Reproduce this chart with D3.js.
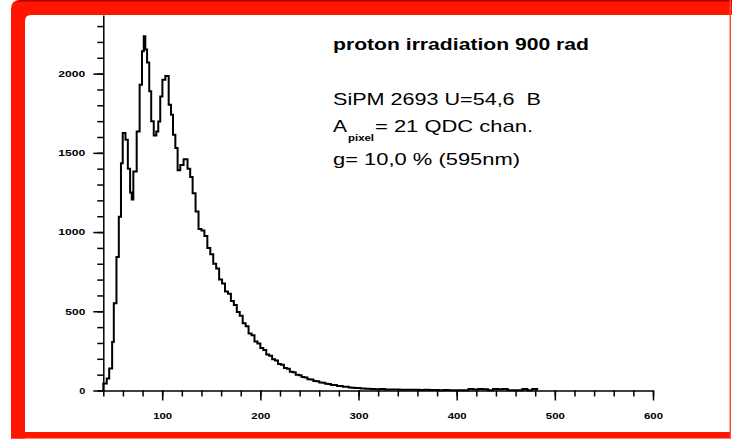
<!DOCTYPE html>
<html>
<head>
<meta charset="utf-8">
<script src="https://cdn.jsdelivr.net/npm/d3@7"></script>
<style>
  html, body { margin: 0; padding: 0; background: #fff; }
  svg { display: block; }
  text { font-family: "Liberation Sans", Arial, sans-serif; white-space: pre; }
</style>
</head>
<body>
<script>
// ---------- data ----------
const channels = [
  40, 43.5, 46, 49, 50.7, 53.4, 55.8, 58, 59.8, 62.6, 65, 67.3, 69, 70.6, 74, 77, 79.4, 81.2, 82.8, 84.6,
  86.8, 88.8, 91.4, 94, 96, 98, 100.2, 103.2, 106.6, 109, 111, 113.4, 115.7, 118.4, 121.8, 125.8, 128.5, 131,
  134, 137, 140, 143, 146, 149, 152, 155, 158, 161, 164, 167, 170, 173, 176, 179, 182, 185, 188, 191,
  194, 197, 200, 203, 206, 209, 212, 215, 218, 221, 224, 227, 230, 233, 236, 239, 242, 245, 248, 251,
  254, 257, 260, 263, 266, 269, 272, 275, 278, 281, 284, 287, 290, 293, 296, 299,
  302, 307, 312, 317, 322, 327, 332, 337, 342, 347, 352, 357, 362, 367, 372, 377, 382, 387, 392, 397,
  402, 407, 412, 417, 422, 427, 432, 437, 442, 447, 452, 457, 462, 467, 472, 477
];
const counts = [
  44, 76, 139, 306, 550, 842, 1097, 1435, 1625, 1582, 1400, 1250, 1205, 1382, 1635, 1930, 2141, 2236, 2152, 2070,
  1888, 1700, 1610, 1635, 1698, 1856, 1962, 1985, 1804, 1740, 1614, 1530, 1390, 1424, 1460, 1400, 1348, 1245,
  1130, 1020, 1010, 975, 900, 860, 800, 770, 700, 675, 625, 610, 565, 540, 495, 472, 425, 405, 360, 348,
  310, 296, 268, 255, 228, 220, 197, 190, 168, 162, 142, 137, 119, 115, 100, 97, 85, 82, 71, 70,
  60, 58, 50, 49, 42, 41, 34, 34, 28, 28, 23, 23, 19, 18, 15, 15,
  13, 11, 10, 8, 9, 7, 6, 7, 5, 5, 4, 5, 3, 4, 3, 3, 2, 3, 2, 2,
  2, 2, 9, 7, 10, 8, 2, 9, 8, 9, 2, 1, 2, 9, 1, 10
];
const channelEnd = 482;

const xLabelTicks = [100, 200, 300, 400, 500, 600];
const yLabelTicks = [0, 500, 1000, 1500, 2000];

const titleText = "proton irradiation 900 rad";
const infoLine1 = "SiPM 2693 U=54,6  B";
const infoLine2a = "A";
const infoLine2sub = "pixel";
const infoLine2b = "= 21 QDC chan.";
const infoLine3 = "g= 10,0 % (595nm)";

// ---------- drawing ----------
const W = 732, H = 439;
const RED = "#ff1500";
const svg = d3.select("body").append("svg").attr("width", W).attr("height", H);
svg.append("rect").attr("width", W).attr("height", H).attr("fill", "#fff");

// frame
const frame = svg.append("g");
frame.append("path").attr("d", "M11,9 Q11,0 20,0 H732 V15 H11 Z").attr("fill", RED);
frame.append("path").attr("d", "M20,0 H732 V1.5 H16 Z").attr("fill", "#a80000");
frame.append("rect").attr("x", 11).attr("y", 8).attr("width", 14).attr("height", 430.5).attr("fill", RED);
frame.append("rect").attr("x", 11).attr("y", 432).attr("width", 720).attr("height", 6.5).attr("fill", RED);
frame.append("rect").attr("x", 729.5).attr("y", 0).attr("width", 1.5).attr("height", 438.5).attr("fill", "#ff4a3a");
frame.append("path").attr("d", "M25,15 H31 Q25,15 25,21 Z").attr("fill", RED);

const x = d3.scaleLinear().domain([40, 600]).range([103.3, 653]);
const y = d3.scaleLinear().domain([0, 2370]).range([390.5, 15]);

// axes: minor + major ticks
const axStroke = 1.5;
function styleAxis(g) {
  g.selectAll("path, line").attr("stroke", "#000").attr("stroke-width", axStroke);
  g.selectAll("text").attr("fill", "#000");
}

const gxMinor = svg.append("g").attr("transform", `translate(0,${y(0)})`)
  .call(d3.axisBottom(x).tickValues(d3.range(40, 601, 20)).tickSize(6).tickSizeOuter(0).tickFormat(""));
styleAxis(gxMinor);
const gxMajor = svg.append("g").attr("transform", `translate(0,${y(0)})`)
  .call(d3.axisBottom(x).tickValues(xLabelTicks).tickSize(10).tickSizeOuter(0).tickPadding(12).tickFormat(d3.format("d")));
styleAxis(gxMajor);
gxMajor.select(".domain").remove();
gxMajor.selectAll("text")
  .attr("font-size", 9).attr("font-weight", "bold")
  .attr("textLength", 19).attr("lengthAdjust", "spacingAndGlyphs")
  .attr("font-family", "'Liberation Sans', Arial, sans-serif");

const gyMinor = svg.append("g").attr("transform", `translate(${x(40)},0)`)
  .call(d3.axisLeft(y).tickValues(d3.range(0, 2301, 100)).tickSize(6).tickSizeOuter(0).tickFormat(""));
styleAxis(gyMinor);
const gyMajor = svg.append("g").attr("transform", `translate(${x(40)},0)`)
  .call(d3.axisLeft(y).tickValues(yLabelTicks).tickSize(10).tickSizeOuter(0).tickPadding(8).tickFormat(d3.format("d")));
styleAxis(gyMajor);
gyMajor.select(".domain").remove();
gyMajor.selectAll("text")
  .attr("font-size", 8.5).attr("font-weight", "bold")
  .attr("x", -18)
  .attr("textLength", d => String(d).length * 7 - 1).attr("lengthAdjust", "spacingAndGlyphs")
  .attr("font-family", "'Liberation Sans', Arial, sans-serif");

// histogram step line
const pts = [[channels[0], 0]];
channels.forEach((c, i) => pts.push([c, counts[i]]));
pts.push([channelEnd, counts[counts.length - 1]]);
pts.push([channelEnd, 0]);
const line = d3.line().x(d => x(d[0])).y(d => y(d[1])).curve(d3.curveStepAfter);
svg.append("path").attr("d", line(pts)).attr("fill", "none").attr("stroke", "#000")
  .attr("stroke-width", 2).attr("stroke-linejoin", "miter");

// annotations
const ann = svg.append("g").attr("fill", "#000");
ann.append("text").attr("x", 333).attr("y", 50).attr("font-size", 16).attr("font-weight", "bold")
  .attr("textLength", 256).attr("lengthAdjust", "spacingAndGlyphs").text(titleText);
ann.append("text").attr("x", 333).attr("y", 105).attr("font-size", 17).attr("xml:space", "preserve")
  .attr("textLength", 208).attr("lengthAdjust", "spacingAndGlyphs").text(infoLine1);
ann.append("text").attr("x", 333).attr("y", 131.5).attr("font-size", 17)
  .attr("textLength", 14).attr("lengthAdjust", "spacingAndGlyphs").text(infoLine2a);
ann.append("text").attr("x", 348).attr("y", 141).attr("font-size", 9).attr("font-weight", "bold")
  .attr("textLength", 26).attr("lengthAdjust", "spacingAndGlyphs").text(infoLine2sub);
ann.append("text").attr("x", 375).attr("y", 131.5).attr("font-size", 17)
  .attr("textLength", 158).attr("lengthAdjust", "spacingAndGlyphs").text(infoLine2b);
ann.append("text").attr("x", 333).attr("y", 165).attr("font-size", 17)
  .attr("textLength", 187).attr("lengthAdjust", "spacingAndGlyphs").text(infoLine3);
</script>
</body>
</html>
